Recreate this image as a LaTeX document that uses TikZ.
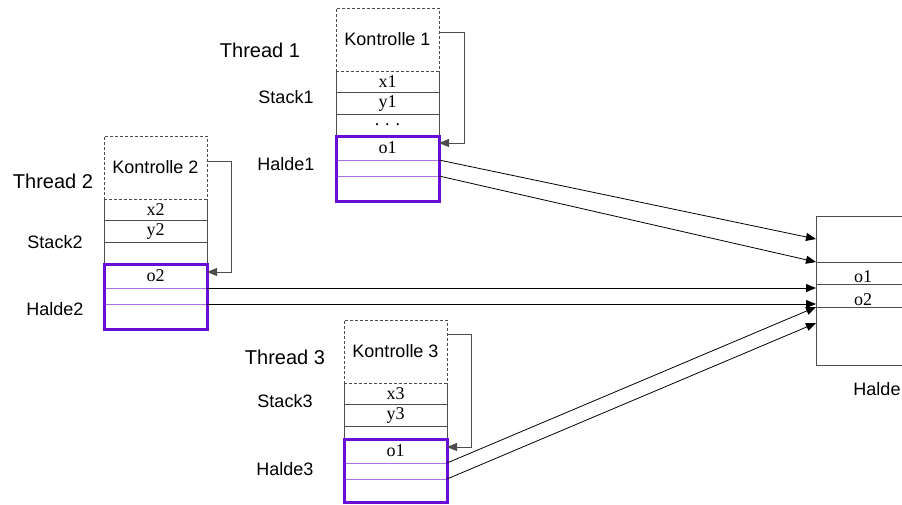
\documentclass[tikz,border=0pt]{standalone}
\usepackage{fontspec}
\setmainfont{Liberation Serif}
\setsansfont{Liberation Sans}
\usetikzlibrary{arrows.meta,positioning,calc}
\definecolor{haldeline}{HTML}{6A0DD6}
\definecolor{haldesep}{HTML}{A874E8}
\definecolor{gridgray}{HTML}{4D4D4D}
\definecolor{titlegreen}{HTML}{0A9A0A}

\begin{document}
\begin{tikzpicture}[x=1pt,y=-1pt,
  lbl/.style={font=\sffamily\fontsize{18}{20}\selectfont},
  thr/.style={font=\sffamily\fontsize{20}{22}\selectfont},
  ktrl/.style={draw=gridgray,dash pattern=on 3pt off 2pt,line width=0.8pt,
               minimum width=103pt,minimum height=63pt,inner sep=0pt,outer sep=0pt,
               anchor=north west,font=\sffamily\fontsize{18}{20}\selectfont},
  cell/.style={minimum width=103pt,inner sep=0pt,outer sep=0pt,font=\fontsize{18}{20}\selectfont},
  heap/.style={draw=gridgray,line width=0.8pt,minimum width=94pt,inner sep=0pt,outer sep=0pt,
               font=\fontsize{18}{20}\selectfont},
  grid/.style={draw=gridgray,line width=0.8pt},
  hsep/.style={draw=haldesep,line width=1pt},
  hframe/.style={draw=haldeline,line width=3pt},
  ptr/.style={-{Triangle[length=10pt,width=8pt]},draw=black,line width=0.8pt},
  ctl/.style={-{Triangle[length=10pt,width=8pt]},draw=gridgray,line width=0.8pt}
]
\useasboundingbox (0,0) rectangle (902,504);

% title, mostly above the page
\node[font=\sffamily\bfseries\fontsize{24}{26}\selectfont,text=titlegreen,anchor=base] (ttl) at (630,-6) {g};

% thread 1
\node[ktrl] (k1) at (336,8) {Kontrolle 1};
\node[cell,minimum height=21pt,below=0pt of k1] (x1) {x1};
\node[cell,minimum height=22pt,below=0pt of x1] (y1) {y1};
\node[cell,minimum height=22pt,below=0pt of y1] (d1) {. . .};
\node[cell,minimum height=24pt,below=0pt of d1] (h1a) {o1};
\node[cell,minimum height=16pt,below=0pt of h1a] (h1b) {};
\node[cell,minimum height=25pt,below=0pt of h1b] (h1c) {};
\draw[grid] (k1.south west) -- (h1a.north west) (k1.south east) -- (h1a.north east)
  (x1.south west) -- (x1.south east) (y1.south west) -- (y1.south east);
\draw[hsep] (h1a.south west) -- (h1a.south east) (h1b.south west) -- (h1b.south east);
\draw[hframe] (h1a.north west) rectangle (h1c.south east);
\node[thr] (t1) at (260,50) {Thread 1};
\node[lbl] (s1) at (286,97) {Stack1};
\node[lbl] (l1) at (286,164) {Halde1};

% thread 2
\node[ktrl] (k2) at (104,136) {Kontrolle 2};
\node[cell,minimum height=21pt,below=0pt of k2] (x2) {x2};
\node[cell,minimum height=22pt,below=0pt of x2] (y2) {y2};
\node[cell,minimum height=22pt,below=0pt of y2] (d2) {};
\node[cell,minimum height=24pt,below=0pt of d2] (h2a) {o2};
\node[cell,minimum height=16pt,below=0pt of h2a] (h2b) {};
\node[cell,minimum height=25pt,below=0pt of h2b] (h2c) {};
\draw[grid] (k2.south west) -- (h2a.north west) (k2.south east) -- (h2a.north east)
  (x2.south west) -- (x2.south east) (y2.south west) -- (y2.south east);
\draw[hsep] (h2a.south west) -- (h2a.south east) (h2b.south west) -- (h2b.south east);
\draw[hframe] (h2a.north west) rectangle (h2c.south east);
\node[thr] (t2) at (53,181) {Thread 2};
\node[lbl] (s2) at (55,242) {Stack2};
\node[lbl] (l2) at (55,309) {Halde2};

% thread 3
\node[ktrl] (k3) at (344,320) {Kontrolle 3};
\node[cell,minimum height=21pt,below=0pt of k3] (x3) {x3};
\node[cell,minimum height=22pt,below=0pt of x3] (y3) {y3};
\node[cell,minimum height=13pt,below=0pt of y3] (d3) {};
\node[cell,minimum height=24pt,below=0pt of d3] (h3a) {o1};
\node[cell,minimum height=16pt,below=0pt of h3a] (h3b) {};
\node[cell,minimum height=23pt,below=0pt of h3b] (h3c) {};
\draw[grid] (k3.south west) -- (h3a.north west) (k3.south east) -- (h3a.north east)
  (x3.south west) -- (x3.south east) (y3.south west) -- (y3.south east);
\draw[hsep] (h3a.south west) -- (h3a.south east) (h3b.south west) -- (h3b.south east);
\draw[hframe] (h3a.north west) rectangle (h3c.south east);
\node[thr] (t3) at (285,357) {Thread 3};
\node[lbl] (s3) at (285,401) {Stack3};
\node[lbl] (l3) at (285,469) {Halde3};

% shared heap
\node[heap,minimum height=46pt,anchor=north west] (hp0) at (816,216) {};
\node[heap,minimum height=22pt,text height=20pt,below=0pt of hp0] (hp1) {o1};
\node[heap,minimum height=23pt,text height=20pt,below=0pt of hp1] (hp2) {o2};
\node[heap,minimum height=58pt,below=0pt of hp2] (hp3) {};
\node[lbl] (hl) at (877,389) {Halde};

% control flow into each local heap
\draw[ctl] ([yshift=7.5pt]k1.east) -| ([xshift=25pt,yshift=5pt]h1a.east) -- ([yshift=5pt]h1a.east);
\draw[ctl] ([yshift=6.5pt]k2.east) -| ([xshift=24pt,yshift=4pt]h2a.east) -- ([yshift=4pt]h2a.east);
\draw[ctl] ([yshift=17.5pt]k3.east) -| ([xshift=24pt,yshift=4pt]h3a.east) -- ([yshift=4pt]h3a.east);

% references into the shared heap
\draw[ptr] (h1a.south east) -- (hp0.west);
\draw[ptr] (h1b.south east) -- (hp0.south west);
\draw[ptr] (h2a.south east) -- (h2a.south east -| hp0.west);
\draw[ptr] (h2b.south east) -- (h2b.south east -| hp0.west);
\draw[ptr] (h3a.south east) -- (hp2.south west);
\draw[ptr] (h3b.south east) -- ($(hp3.north west)+(0,16)$);
\end{tikzpicture}
\end{document}
